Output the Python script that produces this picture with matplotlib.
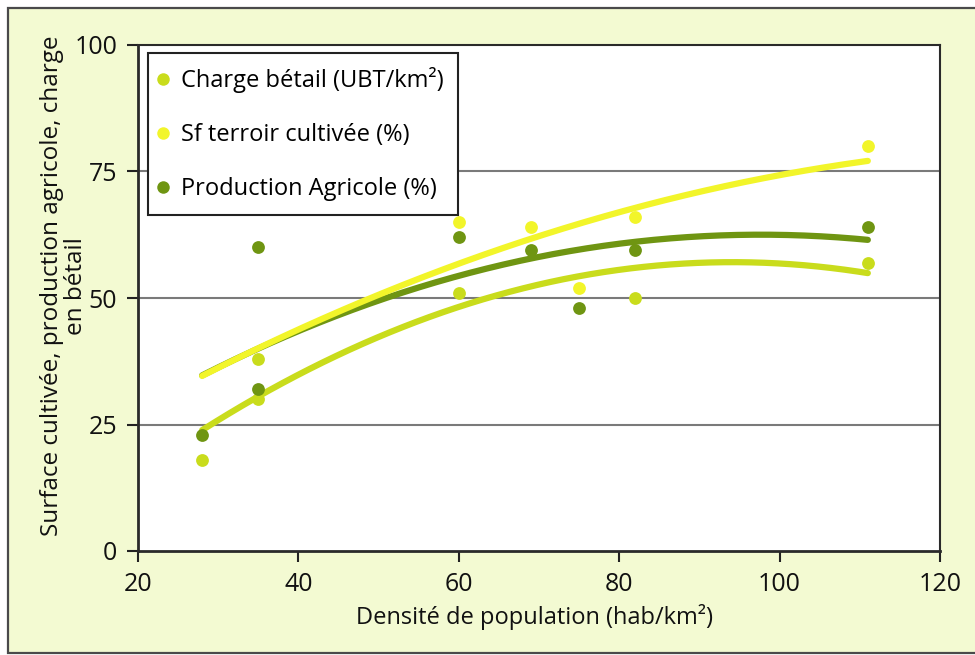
import numpy as np
import matplotlib
matplotlib.use("Agg")
import matplotlib.pyplot as plt
from matplotlib.lines import Line2D
from matplotlib.patches import Rectangle

plt.rcParams['font.family'] = ['Open Sans', 'DejaVu Sans']

# ---- data ----
charge_x = [28, 35, 35, 60, 82, 111]
charge_y = [18, 38, 30, 51, 50, 57]
sf_x = [60, 69, 75, 82, 111]
sf_y = [65, 64, 52, 66, 80]
prod_x = [28, 35, 35, 60, 69, 75, 82, 111]
prod_y = [23, 60, 32, 62, 59.5, 48, 59.5, 64]

# trendline (2nd order polynomial) values
charge_trend_x = [28, 60, 82, 94, 111]
charge_trend_y = [23.9, 48.2, 56.0, 57.1, 54.9]
sf_trend_x = [28, 60, 82, 111]
sf_trend_y = [34.6, 56.8, 67.8, 77.1]
prod_trend_x = [28, 60, 82, 97, 111]
prod_trend_y = [34.7, 54.4, 61.1, 62.5, 61.5]

labels = ["Charge bétail (UBT/km²)", "Sf terroir cultivée (%)", "Production Agricole (%)"]
ylabel_lines = ["Surface cultivée, production agricole, charge", "en bétail"]
x_ticks = [20, 40, 60, 80, 100, 120]
y_ticks = [0, 25, 50, 75, 100]

c_charge = "#C9DC1C"
c_sf = "#F2F52A"
c_prod = "#6F9512"
bg = "#F3FAD2"

fig = plt.figure(figsize=(9.75, 6.55), dpi=100)
fig.patch.set_facecolor("white")
fig.patches.append(Rectangle((8 / 975, 2 / 655), 1.2, 1 - 10 / 655, transform=fig.transFigure,
                             facecolor=bg, edgecolor="#4a4a4a", linewidth=1.6, zorder=-10))

ax = fig.add_axes([138 / 975, 1 - 551 / 655, (940 - 138) / 975, (551 - 45) / 655])
ax.set_facecolor("white")
ax.set_xlim(20, 120)
ax.set_ylim(0, 100)

for v in [25, 50, 75]:
    ax.axhline(v, color="#7a7a7a", linewidth=1.5, zorder=1)


def trend(xs, ys, color, z):
    coef = np.polyfit(xs, ys, 2)
    xx = np.linspace(min(xs), max(xs), 200)
    ax.plot(xx, np.polyval(coef, xx), color=color, linewidth=4.5, solid_capstyle="round", zorder=z)


trend(charge_trend_x, charge_trend_y, c_charge, 2)
trend(prod_trend_x, prod_trend_y, c_prod, 3)
trend(sf_trend_x, sf_trend_y, c_sf, 4)

ms = 85
ax.scatter(charge_x, charge_y, s=ms, color=c_charge, zorder=5, linewidths=0)
ax.scatter(sf_x, sf_y, s=ms, color=c_sf, zorder=5, linewidths=0)
ax.scatter(prod_x, prod_y, s=ms, color=c_prod, zorder=6, linewidths=0)

ax.set_xticks(x_ticks)
ax.set_yticks(y_ticks)
ax.tick_params(axis="both", direction="out", length=8, width=1.5, color="#222222",
               labelsize=18, labelcolor="#111111")
ax.tick_params(axis="x", pad=7)
ax.tick_params(axis="y", pad=7)
for s in ax.spines.values():
    s.set_color("#2a2a2a")
    s.set_linewidth(1.5)
ax.spines["left"].set_linewidth(2)
ax.spines["bottom"].set_linewidth(2)

ax.set_xlabel("Densité de population (hab/km²)", fontsize=17, color="#111111")
ax.xaxis.set_label_coords((535 - 138) / 802, (551 - 604) / 506)

# two-line rotated y label
for txt, xpx in zip(ylabel_lines, (52, 76)):
    fig.text(xpx / 975, 1 - 286 / 655, txt, rotation=90, ha="center", va="center",
             fontsize=17.5, color="#111111")

handles = [Line2D([], [], marker="o", linestyle="none", markersize=9, color=c, markeredgewidth=0)
           for c in (c_charge, c_sf, c_prod)]
leg = ax.legend(handles, labels, loc="upper left", bbox_to_anchor=(10 / 802, 1 - 8 / 506),
                borderaxespad=0, fontsize=17, frameon=True, fancybox=False, framealpha=1,
                edgecolor="#222222", handlelength=0.1, handletextpad=0.7, labelspacing=1.27,
                borderpad=0.6)
leg.get_frame().set_linewidth(1.5)
leg.set_zorder(10)

fig.savefig("out.png", dpi=100, facecolor=fig.get_facecolor())
